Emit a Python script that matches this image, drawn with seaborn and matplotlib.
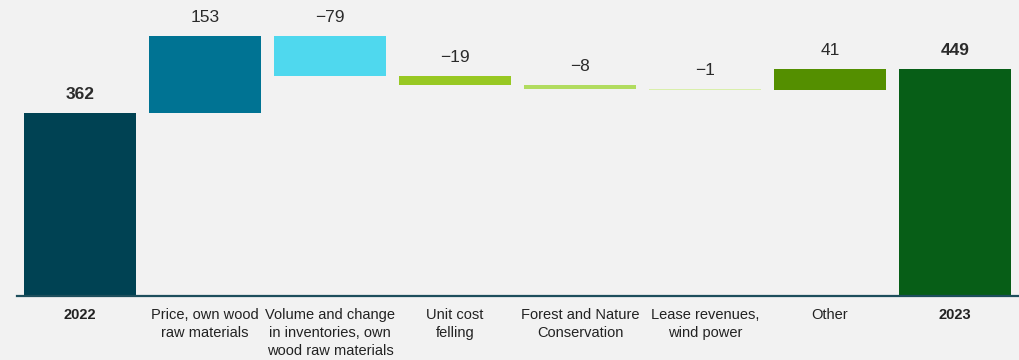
import matplotlib
matplotlib.use("Agg")
import matplotlib.pyplot as plt
import seaborn as sns
import numpy as np

categories = ["2022", "Price, own wood\nraw materials",
              "Volume and change\nin inventories, own\nwood raw materials",
              "Unit cost\nfelling", "Forest and Nature\nConservation",
              "Lease revenues,\nwind power", "Other", "2023"]
start_value = 362
deltas = [153, -79, -19, -8, -1, 41]
end_value = 449
value_labels = ["362", "153", "\u221279", "\u221219", "\u22128", "\u22121", "41", "449"]
colors = ["#004253", "#007393", "#4fd8ee", "#98c823", "#b1dc5f", "#d9efab", "#548f00", "#075e17"]

# waterfall geometry
bottoms = [0]
heights = [start_value]
cum = start_value
for d in deltas:
    new = cum + d
    bottoms.append(min(cum, new))
    heights.append(abs(d))
    cum = new
bottoms.append(0)
heights.append(end_value)
tops = [b + h for b, h in zip(bottoms, heights)]

sns.set_theme(style="white")
plt.rcParams['font.family'] = ['Liberation Sans', 'DejaVu Sans']
bg = "#f2f2f2"
fig = plt.figure(figsize=(10.2, 3.6), dpi=100, facecolor=bg)
ax = fig.add_axes([17 / 1020, 64 / 360, 1 - 17 / 1020, 296 / 360])
ax.set_facecolor(bg)

sns.barplot(x=categories, y=heights, bottom=bottoms, width=0.896,
            color=colors[0], ax=ax, saturation=1)
for p, c in zip(ax.patches, colors):
    p.set_facecolor(c)
    p.set_edgecolor("none")

for i, (t, lab) in enumerate(zip(tops, value_labels)):
    bold = i in (0, len(tops) - 1)
    ax.annotate(lab, (i, t), xytext=(0, 8), textcoords="offset points",
                ha="center", va="bottom", fontsize=12.5,
                fontweight="bold" if bold else "normal", color="#2b2b2b")

ax.set_xlim(-0.504, 7.52)
ax.set_ylim(0, 585.6)
ax.set_yticks([])
for s in ["top", "right", "left"]:
    ax.spines[s].set_visible(False)
ax.spines["bottom"].set_color("#1d4e5c")
ax.spines["bottom"].set_linewidth(1.6)
ax.tick_params(axis="x", length=0, pad=8.5, labelsize=10.5, labelcolor="#222222")
for i, tl in enumerate(ax.get_xticklabels()):
    tl.set_linespacing(1.37)
    tl.set_verticalalignment("top")
    if i in (0, len(categories) - 1):
        tl.set_fontweight("bold")
ax.set_xlabel("")
ax.set_ylabel("")

fig.savefig("out.png", dpi=100, facecolor=bg)
